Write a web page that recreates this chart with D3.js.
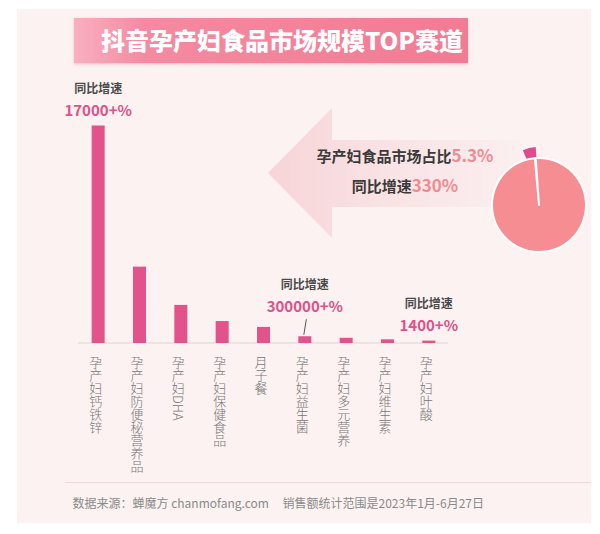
<!DOCTYPE html>
<html>
<head>
<meta charset="utf-8">
<script src="https://cdn.jsdelivr.net/npm/d3@7"></script>
<style>
  html, body { margin: 0; padding: 0; background: #ffffff; }
  svg { display: block; }
  text { font-family: "Noto Sans CJK SC", "Noto Sans", sans-serif; }
</style>
</head>
<body>
<div id="chart"></div>
<script>
// ---------------- data ----------------
const titleText = "抖音孕产妇食品市场规模TOP赛道";
const categories = ["孕产妇钙铁锌", "孕产妇防便秘营养品", "孕产妇DHA", "孕产妇保健食品", "月子餐",
                    "孕产妇益生菌", "孕产妇多元营养", "孕产妇维生素", "孕产妇叶酸"];
// relative sales size (largest = 100)
const salesValues = [100, 35.1, 17.5, 10.1, 7.4, 3.1, 2.4, 1.7, 1.1];
// year-on-year growth callouts
const growthCats = ["孕产妇钙铁锌", "孕产妇益生菌", "孕产妇叶酸"];
const growthLabels = ["17000+%", "300000+%", "1400+%"];
const growthTitle = "同比增速";
// market share pie
const shareLabels = ["孕产妇食品", "其他"];
const shareValues = [5.3, 94.7];
const shareText = "孕产妇食品市场占比";
const shareValueText = "5.3%";
const shareGrowthText = "同比增速";
const shareGrowthValue = "330%";
const footerSource = "数据来源：蝉魔方 chanmofang.com";
const footerNote = "销售额统计范围是2023年1月-6月27日";

// ---------------- drawing ----------------
const W = 600, H = 534;
const svg = d3.select("#chart").append("svg").attr("width", W).attr("height", H);
const defs = svg.append("defs");

// panel
svg.append("rect").attr("x", 17).attr("y", 9).attr("width", 574).attr("height", 514)
  .attr("fill", "#fcf2f1");

// title banner
const bg = defs.append("linearGradient").attr("id", "bannerGrad").attr("x1", "0%").attr("x2", "100%");
bg.append("stop").attr("offset", "0%").attr("stop-color", "#f8b0c0");
bg.append("stop").attr("offset", "18%").attr("stop-color", "#f48aa1");
bg.append("stop").attr("offset", "100%").attr("stop-color", "#f27b93");
const sh = defs.append("filter").attr("id", "shadow").attr("x", "-5%").attr("y", "-20%").attr("width", "110%").attr("height", "150%");
sh.append("feDropShadow").attr("dx", 0).attr("dy", 1.5).attr("stdDeviation", 1.5).attr("flood-color", "#e07080").attr("flood-opacity", 0.35);
svg.append("rect").attr("x", 74).attr("y", 18).attr("width", 394).attr("height", 45)
  .attr("fill", "url(#bannerGrad)").attr("filter", "url(#shadow)");
svg.append("text").attr("x", 101).attr("y", 49.5)
  .attr("fill", "#ffffff").attr("font-size", 24).attr("font-weight", 900)
  .text(titleText);

// arrow
const ag = defs.append("linearGradient").attr("id", "arrowGrad")
  .attr("gradientUnits", "userSpaceOnUse").attr("x1", 268).attr("x2", 520).attr("y1", 0).attr("y2", 0);
ag.append("stop").attr("offset", "0%").attr("stop-color", "#f7d4d8");
ag.append("stop").attr("offset", "45%").attr("stop-color", "#f9e2e4");
ag.append("stop").attr("offset", "100%").attr("stop-color", "#fbefef");
svg.append("path")
  .attr("d", d3.line()([[268, 173], [332, 108], [332, 140], [520, 140], [520, 207], [332, 207], [332, 238]]) + "Z")
  .attr("fill", "url(#arrowGrad)");

// scales
const x = d3.scaleBand().domain(categories).range([77.5, 449.5])
  .paddingInner(0.685).paddingOuter(0.3425);
const y = d3.scaleLinear().domain([0, 100]).range([343, 125.5]);

// baseline
svg.append("line").attr("x1", 78).attr("x2", 448).attr("y1", y(0)).attr("y2", y(0))
  .attr("stroke", "#ddd3d3").attr("stroke-width", 1);

// bars
svg.append("g").selectAll("rect").data(categories).join("rect")
  .attr("x", d => x(d))
  .attr("y", (d, i) => y(salesValues[i]))
  .attr("width", x.bandwidth())
  .attr("height", (d, i) => y(0) - y(salesValues[i]))
  .attr("fill", "#e2538c");

// category labels (vertical)
svg.append("g").selectAll("text").data(categories).join("text")
  .attr("x", d => x(d) + x.bandwidth() / 2 - 2.5)
  .attr("y", 356)
  .attr("font-size", 13)
  .attr("font-weight", 300)
  .attr("fill", "#777777")
  .style("writing-mode", "vertical-rl")
  .text(d => d);

// growth callouts
growthCats.forEach((c, i) => {
  const idx = categories.indexOf(c);
  const cx = x(c) + x.bandwidth() / 2;
  const top = y(salesValues[idx]);
  const withLeader = (top > y(0) - 10) && i === 1;
  const numY = withLeader ? top - 30 : top - 15;
  const g = svg.append("g");
  g.append("text").attr("x", cx).attr("y", numY - 17.5)
    .attr("text-anchor", "middle").attr("font-size", 12).attr("font-weight", 700)
    .attr("fill", "#4a4a4a").text(growthTitle);
  g.append("text").attr("x", cx).attr("y", numY + 5.5)
    .attr("text-anchor", "middle").attr("font-size", 15).attr("font-weight", 700)
    .attr("fill", "#e0508a").text(growthLabels[i]);
  if (withLeader) {
    g.append("line").attr("x1", cx + 1.5).attr("y1", numY + 13).attr("x2", cx - 1).attr("y2", top - 1.5)
      .attr("stroke", "#555").attr("stroke-width", 1);
  }
});

// share text
const t1 = svg.append("text").attr("x", 405).attr("y", 162).attr("text-anchor", "middle");
t1.append("tspan").attr("font-size", 15).attr("font-weight", 700).attr("fill", "#3a3a3a").text(shareText);
t1.append("tspan").attr("font-size", 17).attr("font-weight", 700).attr("fill", "#f28a92").text(shareValueText);
const t2 = svg.append("text").attr("x", 405).attr("y", 192).attr("text-anchor", "middle");
t2.append("tspan").attr("font-size", 15).attr("font-weight", 700).attr("fill", "#3a3a3a").text(shareGrowthText);
t2.append("tspan").attr("font-size", 17).attr("font-weight", 700).attr("fill", "#f28a92").text(shareGrowthValue);

// pie
const gapAngle = -4 * Math.PI / 180;
const pie = d3.pie().sort(null).value(d => d)
  .startAngle(gapAngle - 2 * Math.PI * shareValues[0] / 100)
  .endAngle(gapAngle - 2 * Math.PI * shareValues[0] / 100 + 2 * Math.PI);
const arcs = pie(shareValues);
const pieG = svg.append("g").attr("transform", "translate(539,205)");
// small slice, exploded outward
const small = arcs[0];
pieG.append("path")
  .attr("transform", "translate(-0.5,-18)")
  .attr("d", d3.arc().innerRadius(0).outerRadius(40)(small))
  .attr("fill", "#dc4e8b");
// large slice wraps the full circle
pieG.append("path")
  .attr("d", d3.arc().innerRadius(0).outerRadius(47)({ startAngle: gapAngle, endAngle: gapAngle + 2 * Math.PI - 0.02 }))
  .attr("fill", "#f58d92").attr("stroke", "#ffffff").attr("stroke-width", 2).attr("stroke-linejoin", "round");

// footer
svg.append("line").attr("x1", 65).attr("x2", 591).attr("y1", 482.5).attr("y2", 482.5)
  .attr("stroke", "#eedada").attr("stroke-width", 1);
svg.append("text").attr("x", 72.5).attr("y", 507.5).attr("font-size", 12).attr("fill", "#8a8a8a").text(footerSource);
svg.append("text").attr("x", 282.5).attr("y", 507.5).attr("font-size", 12).attr("fill", "#8a8a8a").text(footerNote);
</script>
</body>
</html>
